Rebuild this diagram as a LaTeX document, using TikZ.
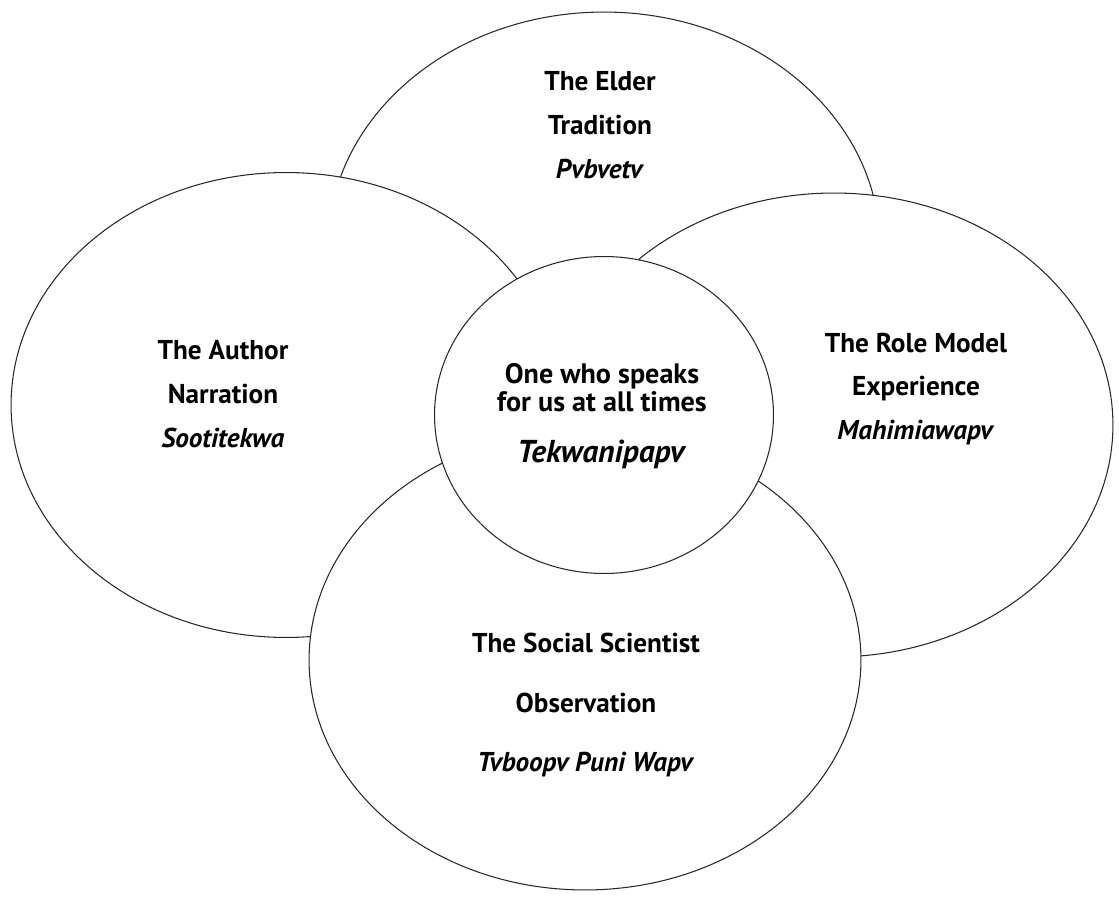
\documentclass[tikz,border=0pt]{standalone}
\usepackage{fontspec}
\setmainfont{PT Sans}
\usepackage{tikz}
\usetikzlibrary{positioning}
\usepackage{xcolor}
\definecolor{ringgray}{RGB}{40,40,40}
\tikzset{
  ring/.style={draw=ringgray, fill=white, line width=0.6pt},
  lbl/.style={align=center, font=\fontsize{15.5}{25}\selectfont\bfseries, inner sep=0pt},
  lblS/.style={lbl, font=\fontsize{15.5}{34}\selectfont\bfseries},
  lblC/.style={lbl, font=\fontsize{16}{16}\selectfont\bfseries},
}
\begin{document}
\begin{tikzpicture}[x=0.02cm, y=-0.02cm]
  \useasboundingbox (0,0) rectangle (1119,898);

  % Outer rings, back to front
  \filldraw[ring] (604,247) ellipse [x radius=5.52cm, y radius=4.70cm];
  \filldraw[ring] (286,405) ellipse [x radius=5.50cm, y radius=4.65cm];
  \filldraw[ring] (834,425) ellipse [x radius=5.58cm, y radius=4.64cm];
  \filldraw[ring] (585,660) ellipse [x radius=5.52cm, y radius=4.60cm];

  % Centre circle
  \filldraw[ring] (604,415) ellipse [x radius=3.39cm, y radius=3.17cm];

  % Labels
  \node[lbl] (elder) at (600,125) {The Elder\\Tradition\\\textit{Pvbvetv}};
  \node[lbl] (author) at (223,394) {The Author\\Narration\\\textit{Sootitekwa}};
  \node[lbl] (rolemodel) at (916,389) {The Role Model\\Experience\\\textit{Mahimiawapv}};
  \node[lblS] (scientist) at (586,705) {The Social Scientist\\Observation\\\textit{Tvboopv Puni Wapv}};
  \node[lblC] (speaker) at (602,416)
       {One who speaks\\for us at all times\\[13pt]{\fontsize{18}{18}\selectfont\textit{Tekwanipapv}}};
\end{tikzpicture}
\end{document}
